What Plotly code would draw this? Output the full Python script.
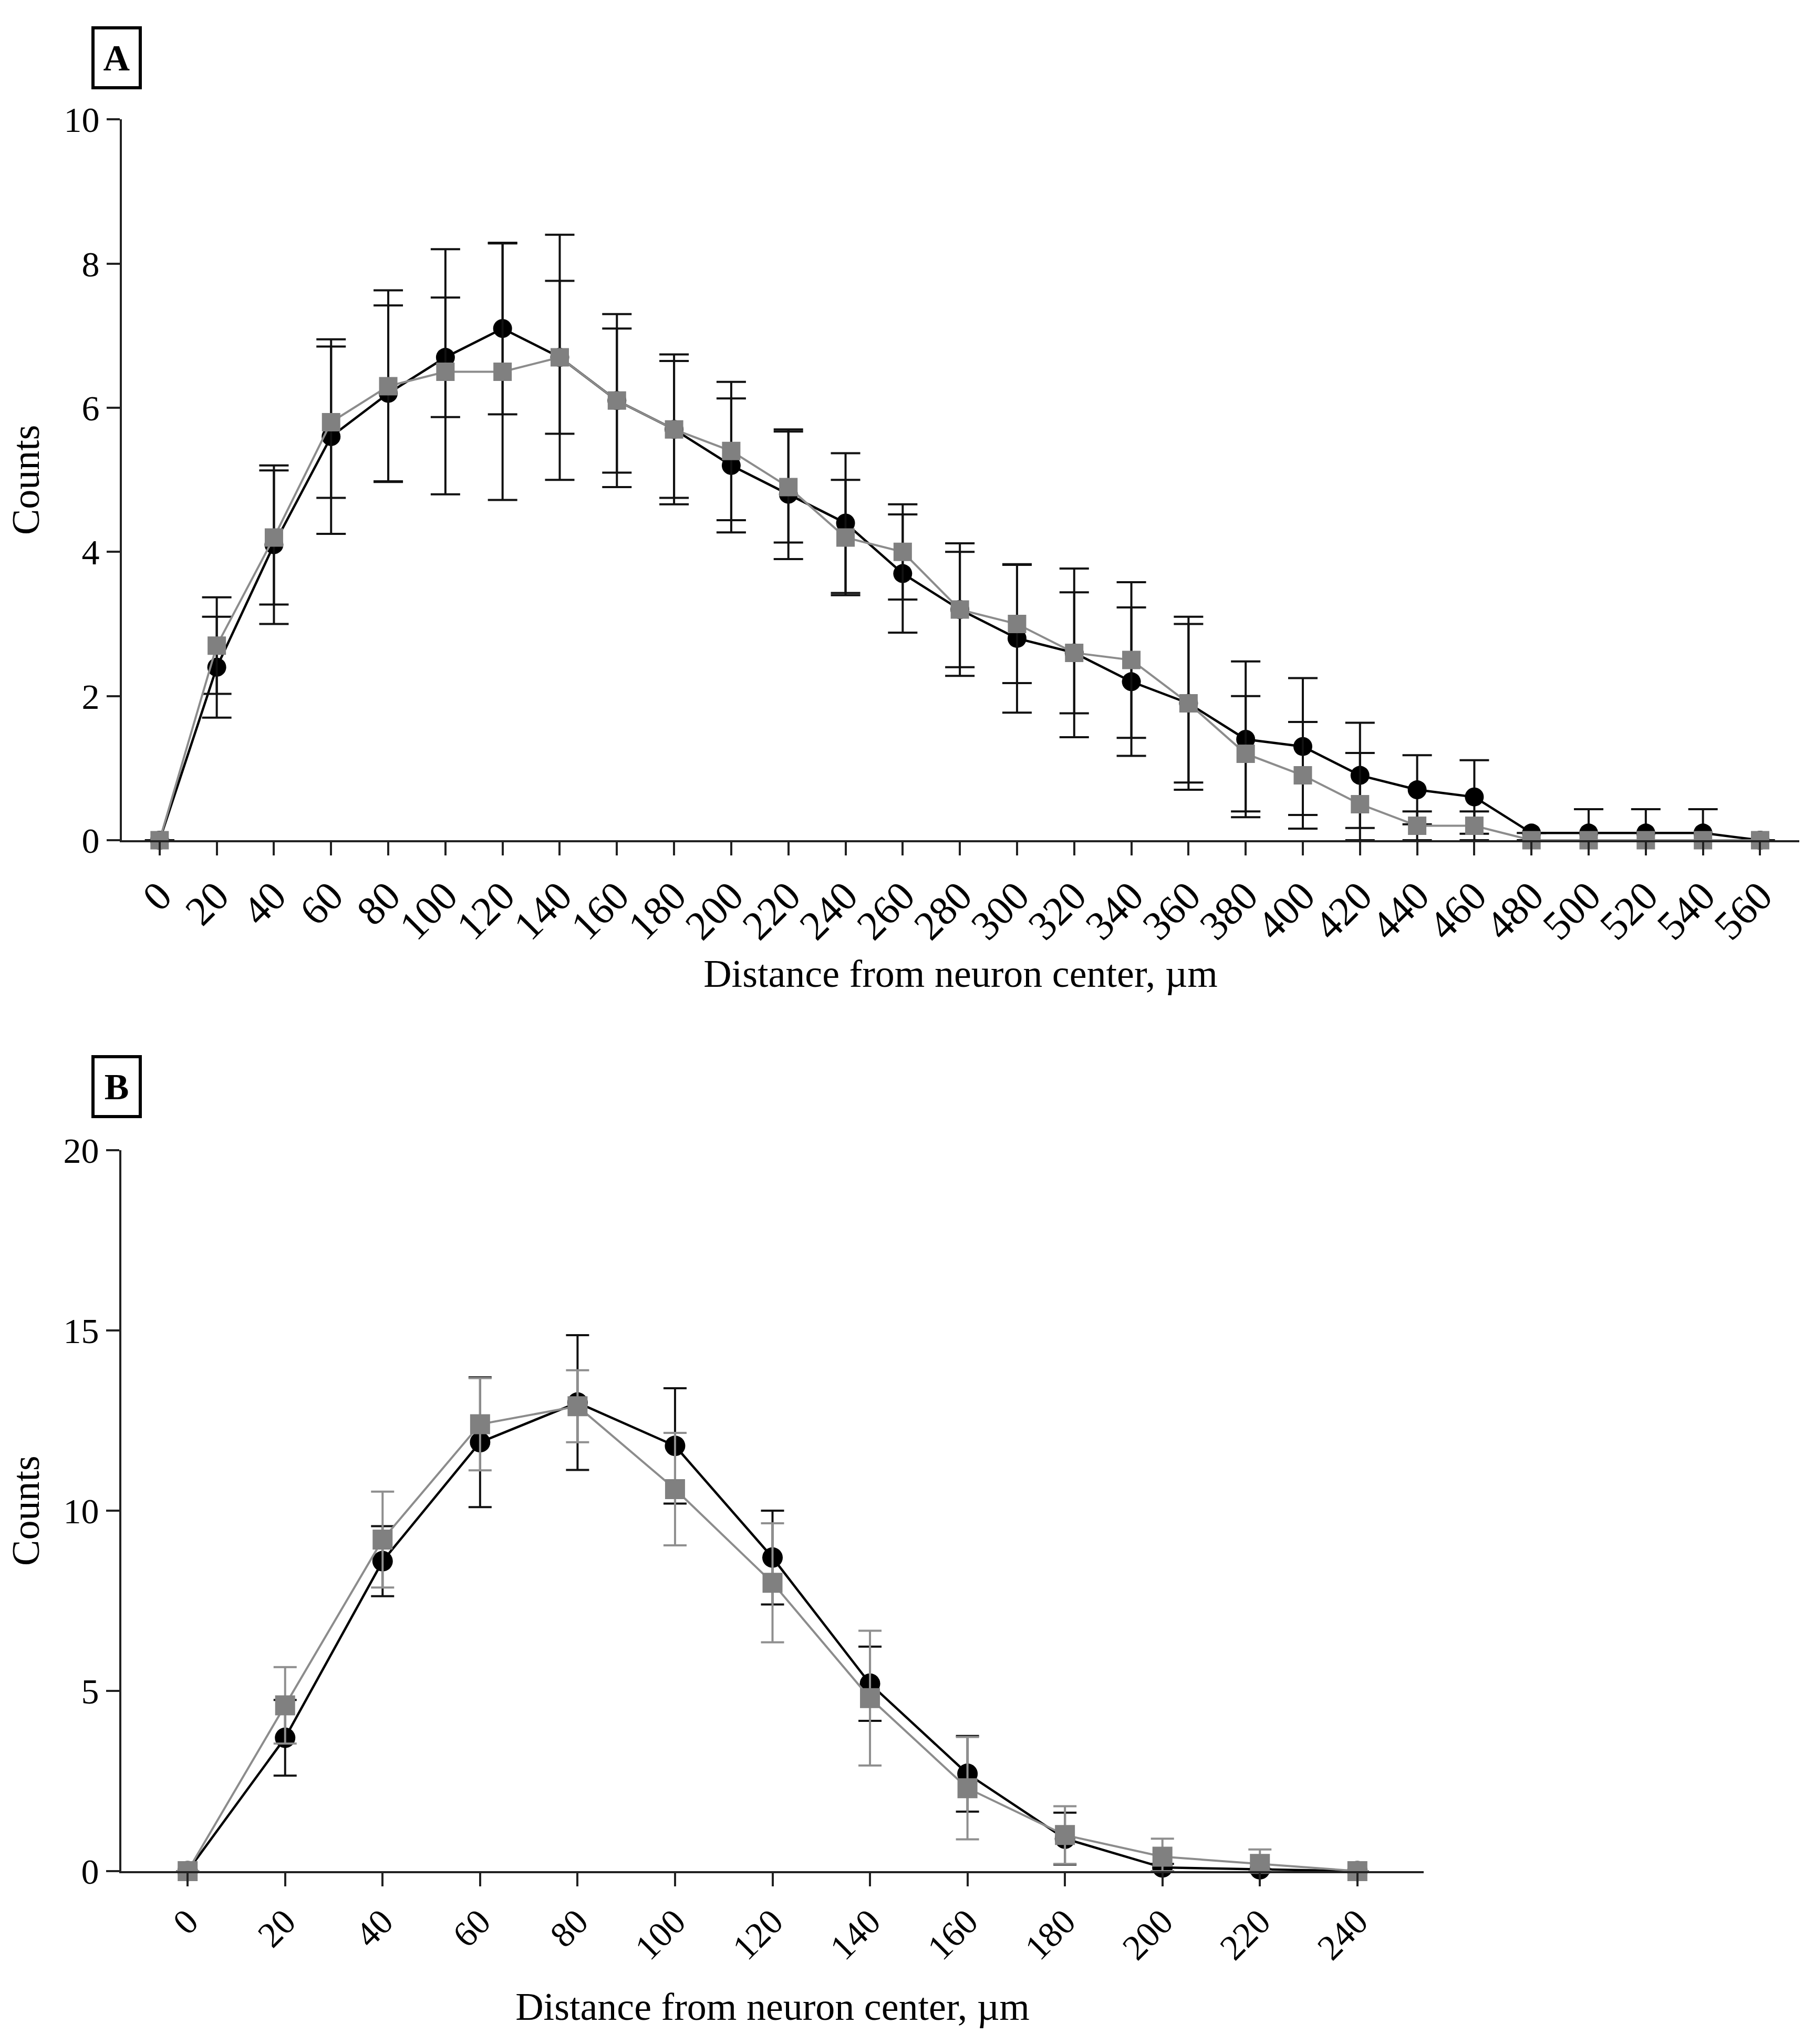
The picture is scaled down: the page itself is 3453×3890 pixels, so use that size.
import plotly.graph_objects as go

# Panel A: distance bins (µm) and mean counts for the two groups
dist_a = [0, 20, 40, 60, 80, 100, 120, 140, 160, 180, 200, 220, 240, 260, 280,
          300, 320, 340, 360, 380, 400, 420, 440, 460, 480, 500, 520, 540, 560]
black_a = [0, 2.4, 4.1, 5.6, 6.2, 6.7, 7.1, 6.7, 6.1, 5.7, 5.2, 4.8, 4.4, 3.7, 3.2,
           2.8, 2.6, 2.2, 1.9, 1.4, 1.3, 0.9, 0.7, 0.6, 0.1, 0.1, 0.1, 0.1, 0]
black_a_err = [0, 0.7, 1.1, 1.35, 1.22, 0.83, 1.19, 1.06, 1.0, 0.95, 0.93, 0.9, 0.97, 0.82, 0.8,
               1.03, 0.84, 1.03, 1.1, 1.08, 0.95, 0.73, 0.48, 0.51, 0, 0.33, 0.33, 0.33, 0]
gray_a = [0, 2.7, 4.2, 5.8, 6.3, 6.5, 6.5, 6.7, 6.1, 5.7, 5.4, 4.9, 4.2, 4.0, 3.2,
          3.0, 2.6, 2.5, 1.9, 1.2, 0.9, 0.5, 0.2, 0.2, 0, 0, 0, 0, 0]
gray_a_err = [0, 0.67, 0.93, 1.05, 1.33, 1.7, 1.78, 1.7, 1.2, 1.04, 0.96, 0.77, 0.8, 0.66, 0.92,
              0.82, 1.17, 1.08, 1.2, 0.8, 0.74, 0.71, 0.2, 0.2, 0, 0, 0, 0, 0]

# Panel B
dist_b = [0, 20, 40, 60, 80, 100, 120, 140, 160, 180, 200, 220, 240]
black_b = [0, 3.7, 8.6, 11.9, 13.0, 11.8, 8.7, 5.2, 2.7, 0.9, 0.1, 0.05, 0]
black_b_err = [0, 1.05, 0.97, 1.8, 1.87, 1.6, 1.3, 1.03, 1.05, 0.72, 0.1, 0, 0]
gray_b = [0, 4.6, 9.2, 12.4, 12.9, 10.6, 8.0, 4.8, 2.3, 1.0, 0.4, 0.2, 0]
gray_b_err = [0, 1.06, 1.33, 1.28, 1.0, 1.56, 1.65, 1.87, 1.42, 0.8, 0.5, 0.4, 0]

FONT = "Liberation Serif"
W, H = 3453, 3890
BLACK = "#000000"
GRAY = "#808080"
GRAY_LINE = "#8c8c8c"
AXIS = "#222222"


def lower(err, vals):
    # error bars stop at the x axis
    return [min(e, v) for e, v in zip(err, vals)]


fig = go.Figure()

# ---- panel A ----
fig.add_trace(go.Scatter(
    x=dist_a, y=black_a, mode="lines+markers", xaxis="x", yaxis="y",
    line=dict(color=BLACK, width=4.5),
    marker=dict(symbol="circle", size=36, color=BLACK),
    error_y=dict(type="data", array=black_a_err, arrayminus=lower(black_a_err, black_a),
                 symmetric=False, color="#111111", thickness=4, width=28),
    cliponaxis=False, showlegend=False))
fig.add_trace(go.Scatter(
    x=dist_a, y=gray_a, mode="lines+markers", xaxis="x", yaxis="y",
    line=dict(color=GRAY_LINE, width=4),
    marker=dict(symbol="square", size=35, color=GRAY),
    error_y=dict(type="data", array=gray_a_err, arrayminus=lower(gray_a_err, gray_a),
                 symmetric=False, color="#111111", thickness=4, width=28),
    cliponaxis=False, showlegend=False))

# ---- panel B ----
fig.add_trace(go.Scatter(
    x=dist_b, y=black_b, mode="lines+markers", xaxis="x2", yaxis="y2",
    line=dict(color=BLACK, width=4.5),
    marker=dict(symbol="circle", size=39, color=BLACK),
    error_y=dict(type="data", array=black_b_err, arrayminus=lower(black_b_err, black_b),
                 symmetric=False, color="#111111", thickness=4, width=22),
    cliponaxis=False, showlegend=False))
fig.add_trace(go.Scatter(
    x=dist_b, y=gray_b, mode="lines+markers", xaxis="x2", yaxis="y2",
    line=dict(color=GRAY_LINE, width=4),
    marker=dict(symbol="square", size=38, color=GRAY),
    error_y=dict(type="data", array=gray_b_err, arrayminus=lower(gray_b_err, gray_b),
                 symmetric=False, color="#8f8f8f", thickness=4, width=22),
    cliponaxis=False, showlegend=False))

tick_font = dict(family=FONT, size=68, color="black")
title_font = dict(family=FONT, size=74, color="black")
x_common = dict(showline=True, linewidth=4, linecolor=AXIS, ticks="outside", ticklen=25,
                tickwidth=4, tickcolor=AXIS, tickangle=-45, showgrid=False, zeroline=False,
                title_font=title_font)
y_common = dict(showline=True, linewidth=4, linecolor=AXIS, ticks="outside", ticklen=25,
                tickwidth=4, tickcolor=AXIS, showgrid=False, zeroline=False,
                tickfont=tick_font, title_font=title_font)

fig.update_layout(
    width=W, height=H,
    margin=dict(l=0, r=0, t=0, b=0),
    paper_bgcolor="white", plot_bgcolor="white",
    font=dict(family=FONT, color="black"),
    xaxis=dict(domain=[224 / W, 3417 / W], range=[-13.2, 573.7], anchor="y",
               tickvals=dist_a, tickfont=dict(family=FONT, size=78, color="black"),
               title=dict(text="Distance from neuron center, µm", standoff=23),
               **x_common),
    yaxis=dict(domain=[1 - 1585 / H, 1 - 186 / H], range=[0, 10], anchor="x",
               tickvals=[0, 2, 4, 6, 8, 10], title=dict(text="Counts", standoff=40),
               **y_common),
    xaxis2=dict(domain=[223 / W, 2702 / W], range=[-13.6, 253.6], anchor="y2",
                tickvals=dist_b, tickfont=tick_font,
                title=dict(text="Distance from neuron center, µm", standoff=50),
                **x_common),
    yaxis2=dict(domain=[1 - 3586 / H, 1 - 2187 / H], range=[0, 20], anchor="x2",
                tickvals=[0, 5, 10, 15, 20], title=dict(text="Counts", standoff=40),
                **y_common),
)

# panel letters in boxes
for letter, yc in [("A", 66), ("B", 2063)]:
    fig.add_annotation(
        text="<b>%s</b>" % letter, xref="paper", yref="paper",
        x=214 / W, y=1 - yc / H, xanchor="center", yanchor="middle",
        showarrow=False, font=dict(family=FONT, size=70, color="black"),
        bordercolor="black", borderwidth=6, borderpad=16, bgcolor="white",
        width=52, height=76)

fig.write_html("out.html")
